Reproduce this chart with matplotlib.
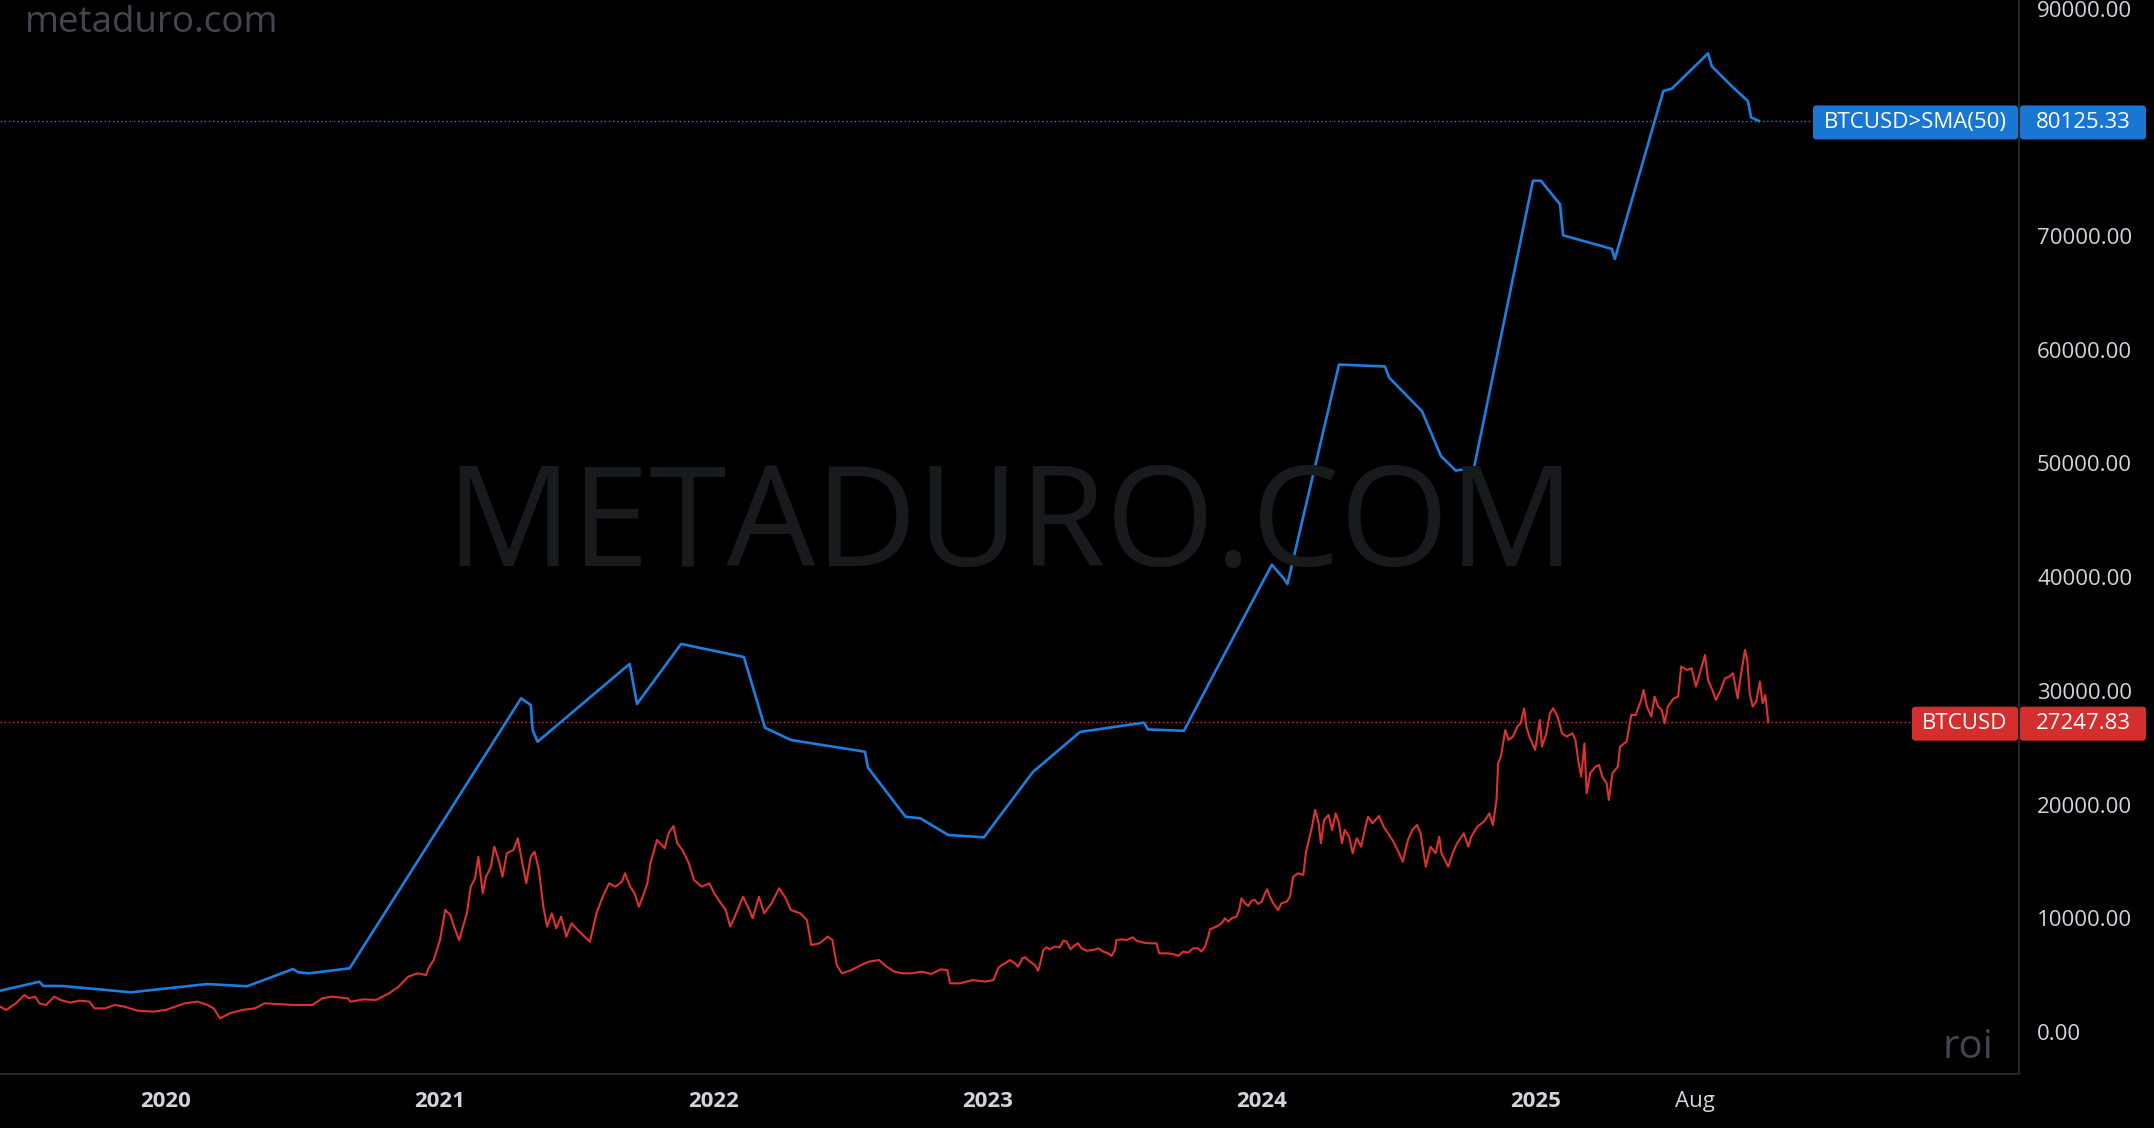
import matplotlib
matplotlib.use('Agg')
import matplotlib.pyplot as plt
from matplotlib.patches import FancyBboxPatch
from matplotlib.transforms import IdentityTransform

# BTCUSD (red), x = decimal year
red_t = [2019.394, 2019.417, 2019.452, 2019.483, 2019.499, 2019.522, 2019.538, 2019.562, 2019.592, 2019.615,
         2019.650, 2019.685, 2019.720, 2019.739, 2019.778, 2019.813, 2019.848, 2019.895, 2019.953, 2019.999,
         2020.034, 2020.069, 2020.116, 2020.151, 2020.174, 2020.197, 2020.232, 2020.279, 2020.325, 2020.360,
         2020.407, 2020.465, 2020.535, 2020.570, 2020.605, 2020.663, 2020.674, 2020.721, 2020.767, 2020.814,
         2020.849, 2020.884, 2020.919, 2020.949, 2020.958, 2020.977, 2021.000, 2021.019, 2021.038, 2021.051,
         2021.070, 2021.082, 2021.098, 2021.112, 2021.128, 2021.140, 2021.156, 2021.168, 2021.186, 2021.198,
         2021.214, 2021.228, 2021.244, 2021.268, 2021.284, 2021.298, 2021.315, 2021.331, 2021.345, 2021.361,
         2021.377, 2021.391, 2021.408, 2021.424, 2021.442, 2021.461, 2021.480, 2021.508, 2021.547, 2021.571,
         2021.594, 2021.617, 2021.640, 2021.664, 2021.675, 2021.694, 2021.710, 2021.726, 2021.740, 2021.757,
         2021.768, 2021.792, 2021.820, 2021.834, 2021.852, 2021.866, 2021.885, 2021.908, 2021.927, 2021.955,
         2021.983, 2022.001, 2022.025, 2022.043, 2022.059, 2022.076, 2022.106, 2022.129, 2022.141, 2022.164,
         2022.183, 2022.210, 2022.238, 2022.262, 2022.280, 2022.315, 2022.339, 2022.355, 2022.385, 2022.415,
         2022.432, 2022.448, 2022.467, 2022.502, 2022.537, 2022.565, 2022.602, 2022.630, 2022.658, 2022.688,
         2022.723, 2022.758, 2022.793, 2022.828, 2022.851, 2022.862, 2022.897, 2022.944, 2022.990, 2023.020,
         2023.037, 2023.050, 2023.062, 2023.080, 2023.098, 2023.110, 2023.126, 2023.135, 2023.153, 2023.171,
         2023.183, 2023.189, 2023.202, 2023.214, 2023.226, 2023.244, 2023.262, 2023.275, 2023.287, 2023.301,
         2023.317, 2023.329, 2023.341, 2023.360, 2023.384, 2023.402, 2023.421, 2023.439, 2023.451, 2023.463,
         2023.469, 2023.488, 2023.506, 2023.528, 2023.542, 2023.567, 2023.591, 2023.615, 2023.625, 2023.652,
         2023.676, 2023.694, 2023.713, 2023.731, 2023.749, 2023.767, 2023.779, 2023.792, 2023.804, 2023.810,
         2023.834, 2023.853, 2023.865, 2023.877, 2023.889, 2023.907, 2023.917, 2023.925, 2023.938, 2023.950,
         2023.962, 2023.974, 2023.986, 2023.999, 2024.011, 2024.019, 2024.029, 2024.041, 2024.059, 2024.071,
         2024.090, 2024.102, 2024.114, 2024.132, 2024.151, 2024.160, 2024.171, 2024.183, 2024.194, 2024.207,
         2024.215, 2024.227, 2024.243, 2024.256, 2024.269, 2024.281, 2024.292, 2024.302, 2024.318, 2024.331,
         2024.346, 2024.362, 2024.378, 2024.387, 2024.403, 2024.427, 2024.444, 2024.460, 2024.476, 2024.492,
         2024.514, 2024.533, 2024.549, 2024.566, 2024.579, 2024.590, 2024.598, 2024.615, 2024.634, 2024.647,
         2024.655, 2024.680, 2024.696, 2024.712, 2024.737, 2024.753, 2024.764, 2024.786, 2024.810, 2024.830,
         2024.843, 2024.856, 2024.862, 2024.872, 2024.888, 2024.900, 2024.916, 2024.932, 2024.944, 2024.957,
         2024.965, 2024.976, 2024.997, 2025.014, 2025.022, 2025.038, 2025.051, 2025.063, 2025.079, 2025.095,
         2025.112, 2025.133, 2025.144, 2025.156, 2025.165, 2025.177, 2025.185, 2025.198, 2025.217, 2025.230,
         2025.242, 2025.258, 2025.266, 2025.279, 2025.299, 2025.307, 2025.331, 2025.348, 2025.364, 2025.384,
         2025.393, 2025.405, 2025.421, 2025.433, 2025.446, 2025.459, 2025.470, 2025.481, 2025.503, 2025.519,
         2025.530, 2025.551, 2025.568, 2025.584, 2025.600, 2025.617, 2025.628, 2025.644, 2025.657, 2025.674,
         2025.690, 2025.706, 2025.719, 2025.736, 2025.747, 2025.763, 2025.771, 2025.780, 2025.791, 2025.804,
         2025.817, 2025.827, 2025.837, 2025.848]
red_v = [2230, 1940, 2520, 3260, 2960, 3110, 2520, 2380, 3110, 2820,
         2580, 2760, 2670, 2080, 2080, 2380, 2230, 1880, 1790, 1940,
         2230, 2520, 2670, 2380, 2080, 1200, 1640, 1940, 2080, 2520,
         2460, 2380, 2380, 2960, 3110, 2960, 2670, 2870, 2820, 3400,
         3990, 4870, 5160, 5010, 5600, 6330, 8090, 10730, 10290, 9270,
         8090, 9120, 10440, 12780, 13520, 15420, 12200, 13660, 14540, 16300,
         15130, 13660, 15720, 16010, 17040, 15130, 13080, 15420, 15860, 14250,
         11020, 9270, 10440, 9120, 10150, 8390, 9560, 8830, 7950, 10440,
         11900, 13080, 12780, 13220, 13960, 12780, 12200, 11020, 11900, 13080,
         14840, 16890, 16160, 17470, 18120, 16600, 16010, 14840, 13370, 12780,
         13080, 12200, 11320, 10730, 9270, 10150, 11900, 10730, 10000, 11900,
         10440, 11320, 12640, 11760, 10730, 10440, 9850, 7650, 7800, 8390,
         8090, 5890, 5160, 5450, 5890, 6190, 6330, 5750, 5310, 5160,
         5160, 5310, 5100, 5510, 5450, 4280, 4280, 4570, 4430, 4570,
         5600, 5890, 6040, 6330, 6040, 5750, 6480, 6570, 6190, 5890,
         5400, 5890, 7210, 7450, 7270, 7510, 7450, 8030, 7950, 7270,
         7650, 7800, 7360, 7150, 7210, 7360, 7070, 6920, 6690, 7210,
         8090, 8150, 8090, 8330, 8030, 7860, 7800, 7800, 6920, 6920,
         6860, 6690, 7070, 6980, 7360, 7360, 7070, 7510, 8390, 9030,
         9270, 9560, 10000, 9710, 10000, 10150, 10730, 11760, 11320, 11080,
         11550, 11610, 11260, 11460, 12200, 12550, 11900, 11320, 10730, 11320,
         11460, 11900, 13660, 13960, 13810, 15720, 16890, 18060, 19530, 18350,
         16600, 18650, 19090, 17770, 19230, 18350, 16600, 17770, 17180, 15720,
         17040, 16300, 18060, 18940, 18350, 19000, 18060, 17480, 16890, 16160,
         14980, 16890, 17770, 18210, 17480, 15720, 14540, 16300, 15720, 17180,
         15720, 14540, 15720, 16600, 17480, 16300, 17180, 18060, 18500, 19230,
         18210, 20410, 23630, 24220, 26560, 25680, 25980, 26860, 27150, 28470,
         26860, 25980, 24810, 27440, 25100, 26270, 28030, 28470, 27740, 26270,
         25980, 26270, 25680, 23630, 22460, 25390, 20990, 22750, 23340, 23490,
         22460, 21870, 20410, 22750, 23340, 25100, 25540, 27880, 27880, 29200,
         30080, 28620, 27740, 29500, 28620, 28320, 27150, 28620, 29350, 29500,
         32140, 31840, 31990, 30380, 31700, 33160, 30960, 30080, 29200, 30080,
         31110, 31260, 31550, 29350, 31260, 33600, 32720, 29790, 28620, 29060,
         30820, 28910, 29640, 27247.83]

# BTCUSD>SMA(50) (blue)
sma_t = [2019.394, 2019.538, 2019.552, 2019.620, 2019.872, 2020.150, 2020.296, 2020.464, 2020.482, 2020.522,
         2020.670, 2021.296, 2021.331, 2021.338, 2021.356, 2021.692, 2021.719, 2021.880, 2022.109, 2022.186,
         2022.281, 2022.551, 2022.562, 2022.699, 2022.753, 2022.855, 2022.985, 2023.164, 2023.336, 2023.569,
         2023.584, 2023.715, 2024.036, 2024.078, 2024.093, 2024.281, 2024.449, 2024.464, 2024.584, 2024.653,
         2024.707, 2024.774, 2024.989, 2025.018, 2025.088, 2025.099, 2025.277, 2025.288, 2025.465, 2025.496,
         2025.628, 2025.642, 2025.721, 2025.774, 2025.785, 2025.814]
sma_v = [3630, 4420, 4050, 4050, 3490, 4220, 4020, 5540, 5250, 5160,
         5600, 29350, 28760, 26560, 25530, 32370, 28850, 34130, 32980, 26760,
         25680, 24650, 23250, 18940, 18790, 17330, 17120, 22870, 26390, 27210,
         26610, 26490, 41100, 39930, 39400, 58700, 58530, 57560, 54600, 50660,
         49380, 49620, 74870, 74870, 72790, 70070, 68870, 67990, 82760, 82970,
         86070, 84930, 83040, 81860, 80440, 80125.33]

last_price = 27247.83
last_sma = 80125.33

y_ticks = [0, 10000, 20000, 30000, 40000, 50000, 60000, 70000, 80000, 90000]
x_ticks = [2020, 2021, 2022, 2023, 2024, 2025, 2025.581]
x_labels = ['2020', '2021', '2022', '2023', '2024', '2025', 'Aug']

BLUE = '#1c7fdf'
BLUE_TAG = '#1976d2'
RED = '#dd3232'
RED_TAG = '#d32f2f'
GRID = '#2a2e39'
TXT = '#d1d4dc'
FONT = ['Open Sans', 'DejaVu Sans']

W, H = 2154, 1128
plt.rcParams['font.family'] = FONT
fig = plt.figure(figsize=(W / 100, H / 100), dpi=100, facecolor='black')
ax = fig.add_axes([0, 54 / H, 2019 / W, 1074 / H])
ax.set_facecolor('black')

# watermark
fig.text(1010 / W, 1 - 566 / H, 'METADURO.COM', ha='center', va='baseline',
         fontsize=101, color='#171b1e', zorder=0)

ax.plot(sma_t, sma_v, color=BLUE, lw=1.9, solid_joinstyle='round', zorder=3)
ax.plot(red_t, red_v, color=RED, lw=1.5, zorder=3)
ax.axhline(last_sma, color=BLUE, lw=1, ls=(0, (1, 2)), zorder=2)
ax.axhline(last_price, color=RED, lw=1, ls=(0, (1, 2)), zorder=2)

ax.set_xlim(2019.394, 2026.763)
ax.set_ylim(-3694, 90765)
ax.spines['top'].set_visible(False)
ax.spines['left'].set_visible(False)
ax.spines['right'].set_color(GRID)
ax.spines['bottom'].set_color(GRID)
ax.spines['right'].set_linewidth(1.2)
ax.spines['bottom'].set_linewidth(1.2)

ax.yaxis.tick_right()
ax.set_yticks(y_ticks)
ax.set_yticklabels(['%.2f' % v for v in y_ticks])
ax.tick_params(axis='y', length=0, pad=13, labelsize=16, labelcolor=TXT)
ax.set_xticks(x_ticks)
ax.set_xticklabels(x_labels)
ax.tick_params(axis='x', length=0, pad=12, labelsize=16, labelcolor=TXT)
for lab in ax.get_xticklabels():
    if lab.get_text() != 'Aug':
        lab.set_fontweight('bold')

# corner texts
fig.text(25 / W, 1 - 32 / H, 'metaduro.com', ha='left', va='baseline', fontsize=26.5, color='#434651')
fig.text(1993 / W, 1 - 1058 / H, 'roi', ha='right', va='baseline', fontsize=29, color='#434651')


def tag(value, name, name_x0, color):
    y = ax.transData.transform((2020, value))[1] - 1.5
    h = 34
    boxes = [(name_x0, 2018, name), (2020, 2146, '%.2f' % value)]
    for x0, x1, s in boxes:
        p = FancyBboxPatch((x0, y - h / 2), x1 - x0, h, boxstyle='round,pad=0,rounding_size=3',
                           transform=IdentityTransform(), facecolor=color, edgecolor='none', zorder=5)
        fig.add_artist(p)
        fig.text((x0 + x1) / 2 / W, y / H, s, ha='center', va='center', fontsize=16,
                 color='white', fontweight='medium', zorder=6)


tag(last_sma, 'BTCUSD>SMA(50)', 1813, BLUE_TAG)
tag(last_price, 'BTCUSD', 1912, RED_TAG)

fig.savefig('out.png', dpi=100, facecolor='black')
